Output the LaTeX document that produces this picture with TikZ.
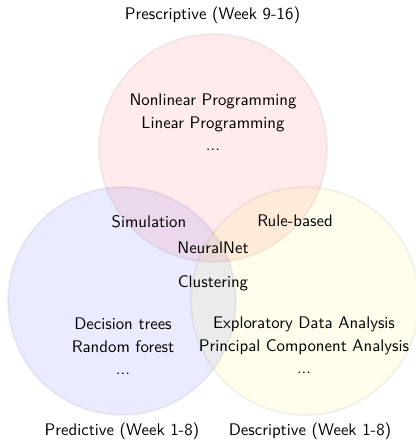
\documentclass[tikz,border=0pt]{standalone}
\begin{document}
\begin{tikzpicture}[x=0.5953pt,y=-0.5953pt,
  venn/.style={draw=black, draw opacity=0.05, line width=1.2pt, fill opacity=0.08},
  lbl/.style={font=\sffamily, align=center, inner sep=1pt},
  every node/.style={text opacity=1}]
\useasboundingbox (0,0) rectangle (415,442);
\fill[white] (0,0) rectangle (415,442);
\path[venn, fill=red] (213,148) circle[radius=114];
\path[venn, fill=blue] (122,301) circle[radius=114];
\path[venn, fill=yellow] (305,301) circle[radius=114];
\coordinate (cr) at (213,148);
\coordinate (cb) at (122,301);
\coordinate (cy) at (305,301);
\node[lbl] (tpres) at (212.5,15) {Prescriptive (Week 9-16)};
\node[lbl] (tpred) at (122,431) {Predictive (Week 1-8)};
\node[lbl] (tdesc) at (310,431) {Descriptive (Week 1-8)};
\node[lbl] (lpres) at (213,122) {Nonlinear Programming\\[2pt] Linear Programming\\[1pt] ...};
\node[lbl] (lpred) at (123,346) {Decision trees\\[2pt] Random forest\\[1pt] ...};
\node[lbl] (ldesc) at (304,345) {Exploratory Data Analysis\\[2pt] Principal Component Analysis\\[1pt] ...};
\node[lbl] (sim) at (149,222) {Simulation};
\node[lbl] (rule) at (295,221) {Rule-based};
\node[lbl] (nn) at (213,248) {NeuralNet};
\node[lbl] (clu) at (213,283) {Clustering};
\end{tikzpicture}
\end{document}
